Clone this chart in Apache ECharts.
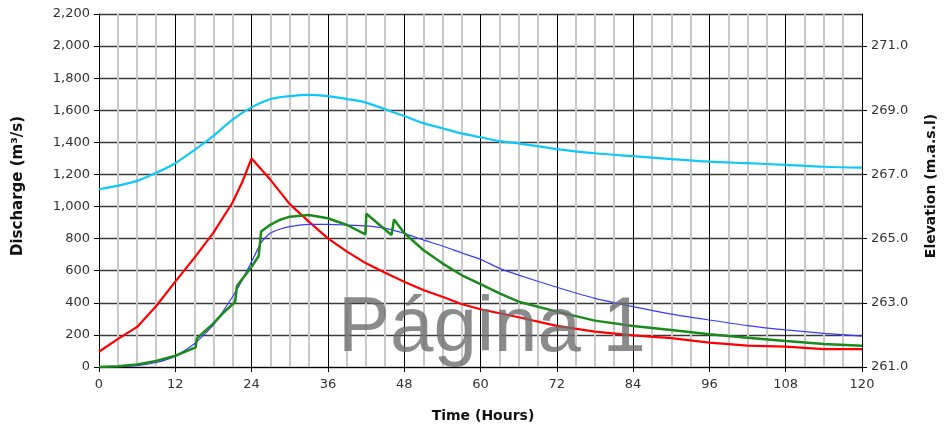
<!DOCTYPE html>
<html>
<head>
<meta charset="utf-8">
<script src="https://cdn.jsdelivr.net/npm/echarts@6/dist/echarts.min.js"></script>
<style>
html,body{margin:0;padding:0;background:#fff;}
#chart{width:944px;height:432px;}
</style>
</head>
<body>
<div id="chart"></div>
<script>
// X-axis ticks (hours)
const hourTicks = [0, 12, 24, 36, 48, 60, 72, 84, 96, 108, 120];

// Red: inflow discharge (m3/s)
const redHours = [0, 3, 6, 9, 12, 15, 18, 21, 22.5, 24, 27, 30, 33, 36, 39, 42, 45, 48, 51, 54, 57, 60, 63, 66, 72, 78, 84, 90, 96, 102, 108, 114, 120];
const redQ     = [95, 175, 250, 380, 532, 680, 838, 1025, 1150, 1300, 1165, 1015, 906, 802, 719, 646, 588, 532, 480, 438, 393, 360, 335, 310, 256, 220, 197, 180, 152, 133, 127, 112, 112];

// Blue: outflow discharge (m3/s)
const blueHours = [0, 3, 6, 9, 12, 15, 18, 21, 22.5, 24, 25.5, 26.25, 27, 28.5, 30, 33, 36, 39, 42, 45, 48, 51, 54, 57, 60, 63, 66, 72, 78, 84, 90, 96, 102, 108, 114, 120];
const blueQ     = [0, 2, 8, 28, 68, 145, 262, 438, 540, 657, 775, 810, 835, 860, 875, 889, 889, 885, 879, 864, 833, 792, 754, 712, 671, 615, 573, 497, 428, 376, 330, 293, 258, 231, 210, 193];

// Green: routed discharge (m3/s)
const greenHours = [0, 3, 6, 9, 12, 15.2, 15.4, 18, 19.5, 21.4, 21.7, 24, 25.1, 25.5, 27, 28.5, 30, 33, 36, 39, 41.9, 42.05, 46.0, 46.4, 48, 51, 54, 57, 60, 63, 66, 72, 78, 84, 90, 96, 102, 108, 114, 120];
const greenQ     = [0, 4, 15, 38, 70, 122, 178, 272, 336, 405, 505, 625, 690, 845, 888, 918, 937, 947, 927, 885, 827, 955, 823, 920, 835, 729, 646, 573, 517, 459, 407, 345, 289, 256, 231, 204, 183, 162, 143, 133];

// Cyan: reservoir elevation (m.a.s.l)
const cyanHours = [0, 3, 6, 9, 12, 15, 18, 21, 24, 27, 30, 33, 36, 39, 42, 45, 48, 51, 54, 57, 60, 63, 66, 72, 78, 84, 90, 96, 102, 108, 114, 120];
const cyanElev  = [266.54, 266.65, 266.8, 267.05, 267.35, 267.76, 268.2, 268.71, 269.09, 269.35, 269.44, 269.48, 269.44, 269.35, 269.24, 269.03, 268.82, 268.6, 268.44, 268.28, 268.16, 268.04, 267.97, 267.79, 267.66, 267.57, 267.48, 267.4, 267.35, 267.3, 267.24, 267.21];

const pair = (xs, ys) => xs.map((x, i) => [x, ys[i]]);

const chart = echarts.init(document.getElementById('chart'), null, {renderer: 'canvas'});
const lblFont = {fontFamily: 'DejaVu Sans', fontSize: 13, color: '#333'};
const titleStyle = {fontFamily: 'DejaVu Sans', fontSize: 14, fontWeight: 'bold', fill: '#111'};

chart.setOption({
  animation: false,
  backgroundColor: '#fff',
  grid: {left: 99, right: 82, top: 14, bottom: 65, containLabel: false},
  xAxis: {
    type: 'value', min: 0, max: 120, interval: 12,
    axisLine: {show: true, lineStyle: {color: '#000', width: 1}},
    axisTick: {show: true, length: 5, lineStyle: {color: '#000'}},
    axisLabel: Object.assign({margin: 11}, lblFont),
    splitLine: {show: true, lineStyle: {color: '#000', width: 1}},
    minorTick: {show: false, splitNumber: 4},
    minorSplitLine: {show: true, lineStyle: {color: '#c8c8c8', width: 2}}
  },
  yAxis: [
    {
      type: 'value', min: 0, max: 2200, interval: 200,
      axisLine: {show: true, lineStyle: {color: '#000'}},
      axisTick: {show: true, length: 5, lineStyle: {color: '#000'}},
      axisLabel: Object.assign({margin: 9, formatter: v => v.toLocaleString('en-US')}, lblFont),
      splitLine: {show: true, lineStyle: {color: '#3a3a3a', width: 1.3}}
    },
    {
      type: 'value', min: 261, max: 272, interval: 2, position: 'right',
      axisLine: {show: true, lineStyle: {color: '#000'}},
      axisTick: {show: true, length: 5, lineStyle: {color: '#000'}},
      axisLabel: Object.assign({margin: 9, showMaxLabel: false,
        formatter: v => (v > 271.5 ? '' : v.toFixed(1))}, lblFont),
      splitLine: {show: false}
    }
  ],
  series: [
    {type: 'line', yAxisIndex: 1, data: pair(cyanHours, cyanElev), showSymbol: false, smooth: 0.3,
     lineStyle: {color: '#10c8f8', width: 2.2}, z: 3},
    {type: 'line', data: pair(redHours, redQ), showSymbol: false,
     lineStyle: {color: '#ff0000', width: 2.2}, z: 4},
    {type: 'line', data: pair(blueHours, blueQ), showSymbol: false, smooth: 0.2,
     lineStyle: {color: '#3a3aff', width: 1.2}, z: 5},
    {type: 'line', data: pair(greenHours, greenQ), showSymbol: false,
     lineStyle: {color: '#1a8a1a', width: 2.5}, z: 6}
  ],
  graphic: [
    {type: 'text', x: 18, y: 186, rotation: Math.PI / 2,
     style: Object.assign({text: 'Discharge (m³/s)', align: 'center', verticalAlign: 'middle'}, titleStyle, {fontSize: 15})},
    {type: 'text', x: 931, y: 186, rotation: Math.PI / 2,
     style: Object.assign({text: 'Elevation (m.a.s.l)', align: 'center', verticalAlign: 'middle'}, titleStyle)},
    {type: 'text', x: 483, y: 416,
     style: Object.assign({text: 'Time (Hours)', align: 'center', verticalAlign: 'middle'}, titleStyle)},
    {type: 'text', x: 338, y: 329, z: 100,
     style: {text: 'Página 1', fontFamily: 'Liberation Sans', fontSize: 78, fill: 'rgba(110,110,110,0.8)',
             align: 'left', verticalAlign: 'middle'}}
  ]
});
</script>
</body>
</html>
